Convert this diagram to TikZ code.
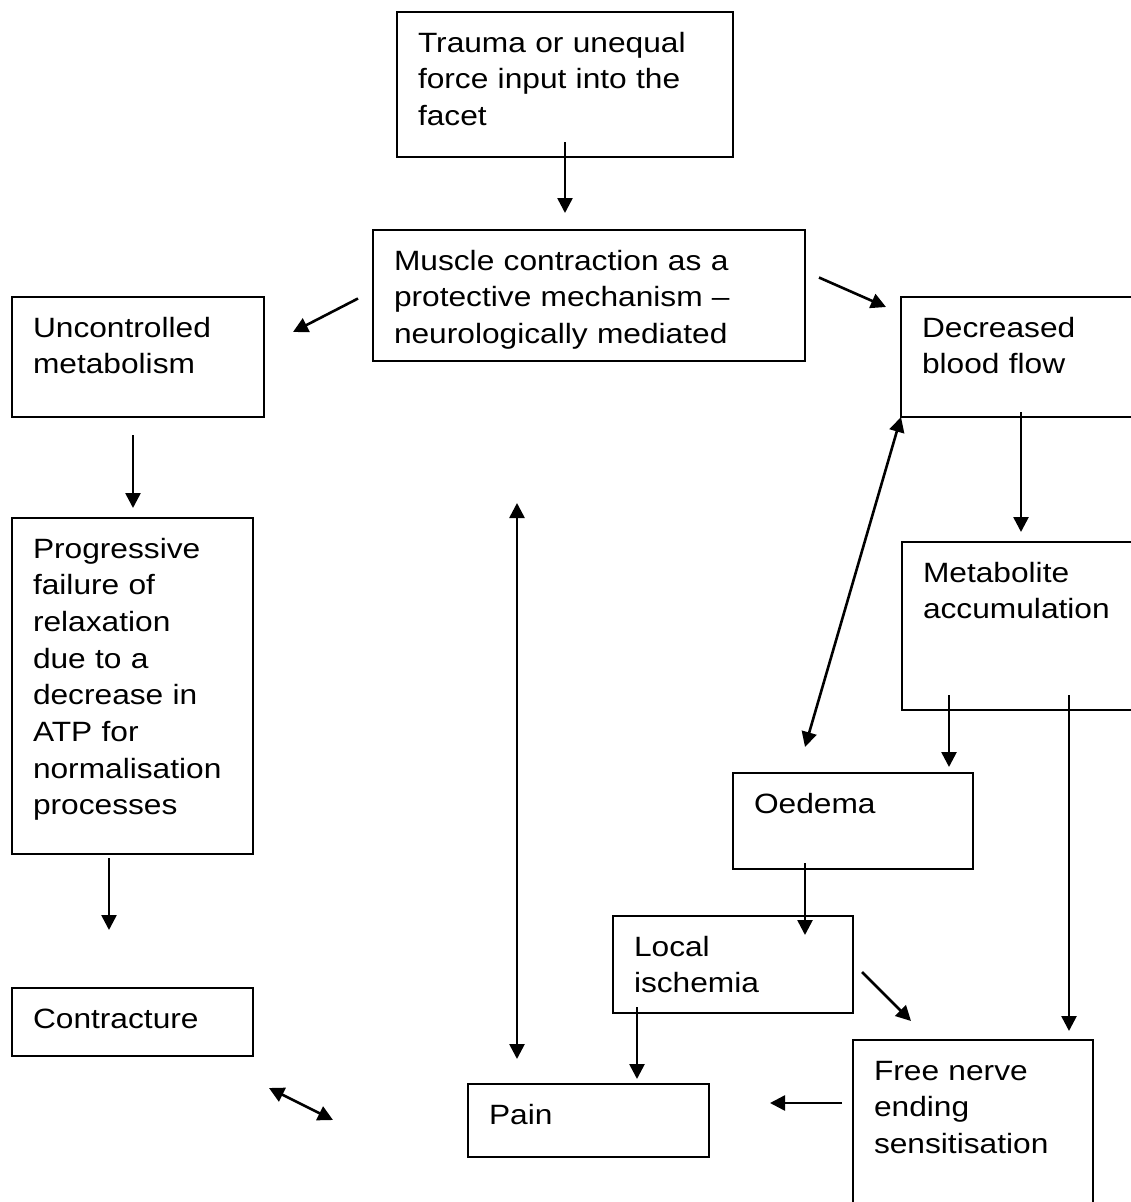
\documentclass[tikz,border=0pt]{standalone}
\usepackage{fontspec}
\setmainfont{Liberation Sans}[FakeStretch=1.136]
\usetikzlibrary{arrows.meta}

\tikzset{
  box/.style={draw, line width=2.3pt, outer sep=0pt, anchor=north west, align=left,
    inner xsep=21pt, inner ysep=12pt, text height=28pt,
    font=\fontsize{27.9}{36.7}\selectfont},
  arr/.style={line width=2.6pt, -{Triangle[length=15pt,width=15pt]}},
  darr/.style={line width=2.6pt, {Triangle[length=15pt,width=15pt]}-{Triangle[length=15pt,width=15pt]}}
}

\begin{document}
\begin{tikzpicture}[x=1pt,y=-1pt]
    \useasboundingbox (0,0) rectangle (1131,1202);
    \clip (0,0) rectangle (1131,1202);
    % Boxes
    \node[box, text width=294pt, text depth=93pt] (trauma) at (397,12)
        {Trauma or unequal\\force input into the\\facet};
    \node[box, text width=390pt, text depth=79pt] (muscle) at (373,230)
        {Muscle contraction as a\\protective mechanism –\\neurologically mediated};
    \node[box, text width=210pt, text depth=68pt] (unc) at (12,297)
        {Uncontrolled\\metabolism};
    \node[box, text width=218pt, text depth=68pt] (dec) at (901,297)
        {Decreased\\blood flow};
    \node[box, text width=199pt, text depth=284pt] (prog) at (12,518)
        {Progressive\\failure of\\relaxation\\due to a\\decrease in\\ATP for\\normalisation\\processes};
    \node[box, text width=218pt, text depth=116pt] (metab) at (902,542)
        {Metabolite\\accumulation};
    \node[box, text width=198pt, text depth=44pt] (oed) at (733,773) {Oedema};
    \node[box, text width=198pt, text depth=45pt] (local) at (613,916)
        {Local\\ischemia};
    \node[box, text width=199pt, text depth=16pt] (contr) at (12,988) {Contracture};
    \node[box, text width=198pt, text depth=138pt] (free) at (853,1040)
        {Free nerve\\ending\\sensitisation};
    \node[box, text width=199pt, text depth=21pt] (pain) at (468,1084) {Pain};
    % Arrows
    \draw[arr] ([yshift=15pt]trauma.south) -- ([xshift=-24pt,yshift=17pt]muscle.north);
    \draw[arr] ([xshift=-15pt,yshift=-3pt]muscle.west) -- ([xshift=29pt,yshift=25pt]unc.east);
    \draw[arr] ([xshift=14pt,yshift=18pt]muscle.east) -- ([xshift=-15pt,yshift=-10pt]dec.north west);
    \draw[arr] ([xshift=-5pt,yshift=-18pt]unc.south) -- ([xshift=0.5pt,yshift=10pt]prog.north);
    \draw[arr] ([xshift=-23.5pt,yshift=-4pt]prog.south) -- ([xshift=-23.5pt,yshift=58pt]contr.north);
    \draw[darr] ([xshift=-72pt,yshift=-142pt]muscle.south) -- ([xshift=-71.5pt,yshift=25pt]pain.north);
    \draw[darr] (dec.south west) -- ([xshift=-48pt,yshift=26pt]oed.north);
    \draw[arr] ([xshift=120pt,yshift=5pt]dec.south west) -- ([xshift=119pt,yshift=10pt]metab.north west);
    \draw[arr] ([xshift=47pt,yshift=15pt]metab.south west) -- ([xshift=-24pt,yshift=6pt]oed.north east);
    \draw[arr] ([xshift=167pt,yshift=15pt]metab.south west) -- ([xshift=-24pt,yshift=9pt]free.north east);
    \draw[arr] ([xshift=-48pt,yshift=6pt]oed.south) -- ([xshift=72pt,yshift=-19pt]local.north);
    \draw[arr] ([xshift=9pt,yshift=-7.5pt]local.east) -- ([xshift=58pt,yshift=19pt]free.north west);
    \draw[arr] ([xshift=24pt,yshift=6pt]local.south west) -- ([xshift=169pt,yshift=5pt]pain.north west);
    \draw[arr] ([xshift=-11pt,yshift=-63pt]free.north west) -- ([xshift=61pt,yshift=17.5pt]pain.east);
    \draw[darr] ([xshift=16pt,yshift=-32pt]contr.south east) -- ([xshift=-135pt,yshift=0.5pt]pain.west);
\end{tikzpicture}
\end{document}
